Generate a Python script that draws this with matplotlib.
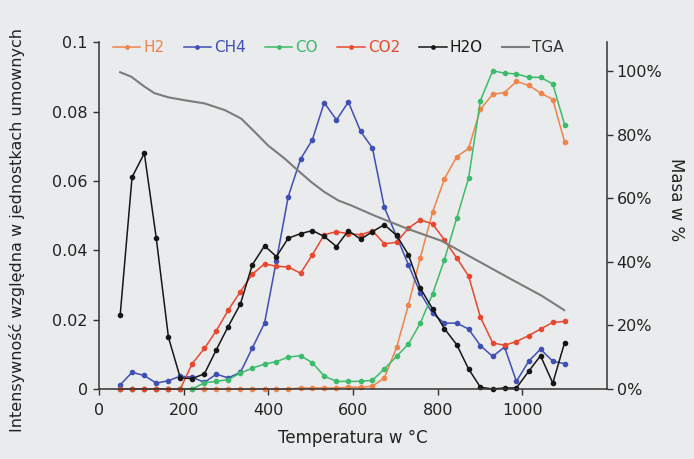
import matplotlib
matplotlib.use('Agg')
import matplotlib.pyplot as plt
from matplotlib.ticker import PercentFormatter

# sampling temperatures of the MS signals (deg C)
temps = [50, 78, 107, 135, 164, 192, 220, 249, 277, 305, 334, 362, 391, 419,
         447, 476, 504, 532, 561, 589, 618, 646, 674, 703, 731, 759, 788, 816,
         845, 873, 901, 930, 958, 986, 1015, 1043, 1072, 1100]

h2 = [0, 0, 0, 0, 0, 0, 0, 0, 0, 0, 0, 0, 0, 0, 0,
      0.0003, 0.0003, 0.0003, 0.0003, 0.0005, 0.0005, 0.0008, 0.0032, 0.012,
      0.0243, 0.0379, 0.051, 0.0606, 0.067, 0.0694, 0.0807, 0.085, 0.0855,
      0.0887, 0.0876, 0.0854, 0.0835, 0.0712]
ch4 = [0.0012, 0.0048, 0.0039, 0.0017, 0.0024, 0.0037, 0.0034, 0.0019, 0.0043,
       0.0032, 0.0048, 0.0118, 0.019, 0.037, 0.0555, 0.0663, 0.0719, 0.0826,
       0.0776, 0.0828, 0.0743, 0.0695, 0.0524, 0.044, 0.0358, 0.0277, 0.0218,
       0.019, 0.019, 0.0173, 0.0125, 0.0094, 0.0121, 0.0022, 0.008, 0.0115,
       0.008, 0.0073]
co = [0, 0, 0, 0, 0, 0, 0, 0.0018, 0.0022, 0.0027, 0.0046, 0.006, 0.0072,
      0.0079, 0.0092, 0.0096, 0.0076, 0.0037, 0.0022, 0.0022, 0.0022, 0.0025,
      0.0058, 0.0094, 0.013, 0.019, 0.0274, 0.0373, 0.0493, 0.0608, 0.0832,
      0.0918, 0.0911, 0.0909, 0.0899, 0.0899, 0.088, 0.0762]
co2 = [0, 0, 0, 0, 0, 0, 0.0073, 0.0117, 0.0168, 0.0227, 0.0281, 0.0331,
       0.0361, 0.0354, 0.0352, 0.0334, 0.0387, 0.0445, 0.0454, 0.0448, 0.0445,
       0.0456, 0.0419, 0.0423, 0.0464, 0.0488, 0.0476, 0.043, 0.0378, 0.0326,
       0.0207, 0.0133, 0.0126, 0.0137, 0.0154, 0.0173, 0.0192, 0.0195]
h2o = [0.0214, 0.0611, 0.068, 0.0437, 0.0149, 0.0032, 0.003, 0.0044, 0.0113,
       0.018, 0.0245, 0.0358, 0.0413, 0.0382, 0.0435, 0.0448, 0.0457, 0.044,
       0.0411, 0.0457, 0.0432, 0.0454, 0.0474, 0.0443, 0.0387, 0.0291, 0.0231,
       0.0174, 0.0128, 0.0058, 0.0005, 0.0, 0.0003, 0.0003, 0.0051, 0.0096,
       0.0017, 0.0134]

# thermogravimetric curve, mass in %
tga_temps = [50, 76, 107, 131, 164, 202, 249, 297, 336, 368, 399, 439, 470,
             502, 533, 565, 596, 651, 730, 809, 888, 967, 1046, 1099]
tga_mass = [99.6, 98.2, 95.1, 93, 91.7, 90.8, 89.8, 87.7, 85, 80.8, 76.6, 72.4,
            68.7, 65, 61.9, 59.3, 57.7, 54.5, 50.3, 46.6, 40.8, 35, 29.3, 24.8]

names = ['H2', 'CH4', 'CO', 'CO2', 'H2O']
colors = ['#f0844a', '#3f4fb5', '#3dbb6c', '#e8482e', '#161616']
tga_color = '#7c7c7c'
bg = '#e9ebec'
ink = '#222222'

plt.rcParams['font.family'] = 'DejaVu Sans'
fig = plt.figure(figsize=(6.94, 4.59), dpi=100, facecolor=bg)
ax = fig.add_axes([0.1427, 0.1525, 0.7319, 0.7553])
ax.set_facecolor(bg)
ax2 = ax.twinx()

handles = []
for name, vals, c in zip(names, [h2, ch4, co, co2, h2o], colors):
    ln, = ax.plot(temps, vals, color=c, lw=1.1, marker='o', ms=3.0,
                  label=name, clip_on=False)
    handles.append(ln)
tg, = ax2.plot(tga_temps, tga_mass, color=tga_color, lw=1.5, label='TGA')
handles.append(tg)

ax.set_xlim(0, 1200)
ax.set_xticks(range(0, 1001, 200))
ax.set_ylim(0, 0.1)
ax.set_yticks([0, 0.02, 0.04, 0.06, 0.08, 0.1])
ax.set_yticklabels(['0', '0.02', '0.04', '0.06', '0.08', '0.1'])
ax2.set_ylim(0, 109)
ax2.set_yticks(range(0, 101, 20))
ax2.yaxis.set_major_formatter(PercentFormatter(decimals=0))

for a in (ax, ax2):
    a.spines['top'].set_visible(False)
    for s in a.spines.values():
        s.set_color('#333333')
        s.set_linewidth(1.1)
ax.spines['right'].set_visible(False)
ax2.spines['left'].set_visible(False)
ax2.spines['bottom'].set_visible(False)

ax.tick_params(axis='both', direction='out', length=4, width=1, colors='#333333',
               labelcolor=ink, labelsize=11.5, pad=4)
ax.tick_params(axis='x', pad=6)
ax2.tick_params(axis='y', direction='out', length=4, width=1, colors='#333333',
                labelcolor=ink, labelsize=11.5, pad=3)

ax.set_xlabel('Temperatura w °C', fontsize=12, color=ink, labelpad=8)
ax.set_ylabel('Intensywność względna w jednostkach umownych', fontsize=11.5,
              color=ink)
ax.yaxis.set_label_coords(-0.146, 0.46)
ax2.set_ylabel('Masa w %', fontsize=12, color=ink, rotation=-90)
ax2.yaxis.set_label_coords(1.154, 0.545)

leg = ax2.legend(handles, names + ['TGA'], loc='upper left',
                 bbox_to_anchor=(0.0, 1.045), ncol=6, frameon=False,
                 fontsize=11, handlelength=1.8, handletextpad=0.2,
                 columnspacing=1.25, numpoints=1, markerscale=0.8)
for txt, c in zip(leg.get_texts(), colors + ['#333333']):
    txt.set_color(c)

fig.savefig('out.png', dpi=100, facecolor=bg)
